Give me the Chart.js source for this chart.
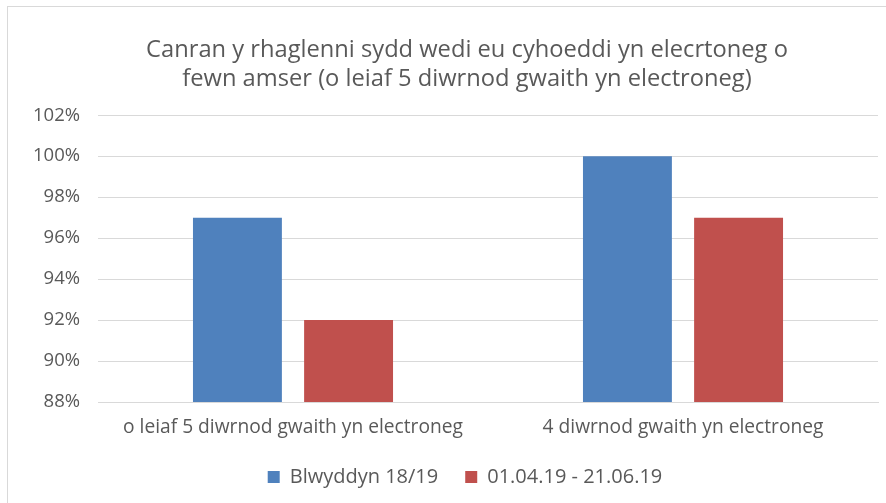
<!DOCTYPE html>
<html>
<head>
<meta charset="utf-8">
<script src="https://cdn.jsdelivr.net/npm/chart.js@4/dist/chart.umd.min.js"></script>
<style>
  html, body { margin: 0; padding: 0; background: #fff; overflow: hidden; }
  #frame { position: absolute; left: 7px; top: 6px; width: 900px; height: 520px; border: 1px solid #d9d9d9; box-sizing: border-box; }
  #wrap { position: absolute; left: 0; top: 0; width: 886px; height: 503px; }
</style>
</head>
<body>
<div id="frame"></div>
<div id="wrap"><canvas id="barChart"></canvas></div>
<script>
const categories = ['o leiaf 5 diwrnod gwaith yn electroneg', '4 diwrnod gwaith yn electroneg'];
const seriesNames = ['Blwyddyn 18/19', '01.04.19 - 21.06.19'];
const year1819 = [97, 100];
const period2019 = [92, 97];
const yTicks = [88, 90, 92, 94, 96, 98, 100, 102];
const titleLines = ['Canran y rhaglenni sydd wedi eu cyhoeddi yn elecrtoneg o', 'fewn amser (o leiaf 5 diwrnod gwaith yn electroneg)'];

const fontFamily = '"Open Sans", "Liberation Sans", sans-serif';
const grey = '#595959';

// the frame in the source is wider than the plot, so title and legend sit a bit right of the plot centre
const shiftBlocks = {
  id: 'shiftBlocks',
  afterLayout(chart) {
    if (chart.titleBlock) chart.titleBlock.left += 56;
    if (chart.legend) chart.legend.left += 52;
  }
};

const config = {
  type: 'bar',
  data: {
    labels: categories,
    datasets: [{
      label: seriesNames[0],
      data: year1819,
      backgroundColor: '#4f81bd',
      barPercentage: 0.8,
      categoryPercentage: 0.57
    }, {
      label: seriesNames[1],
      data: period2019,
      backgroundColor: '#c0504d',
      barPercentage: 0.8,
      categoryPercentage: 0.57
    }]
  },
  options: {
    responsive: true,
    maintainAspectRatio: false,
    animation: false,
    layout: { padding: { left: 0, right: 8, top: 35, bottom: 6 } },
    plugins: {
      title: {
        display: true,
        text: titleLines,
        color: grey,
        font: { family: fontFamily, size: 23.7, weight: 'normal', lineHeight: 1.25 },
        padding: { top: 0, bottom: 21 }
      },
      legend: {
        position: 'bottom',
        labels: {
          color: grey,
          font: { family: fontFamily, size: 20 },
          boxWidth: 12,
          boxHeight: 12,
          padding: 27
        }
      },
      tooltip: { enabled: false }
    },
    scales: {
      x: {
        afterFit: scale => { scale.height = 38; },
        grid: { display: false, drawTicks: false },
        border: { color: '#d9d9d9', width: 1 },
        ticks: { color: grey, font: { family: fontFamily, size: 19.2 }, padding: 14, autoSkip: false, maxRotation: 0 }
      },
      y: {
        min: yTicks[0],
        max: yTicks[yTicks.length - 1],
        afterBuildTicks: scale => { scale.ticks = yTicks.map(v => ({ value: v })); },
        afterFit: scale => { scale.width = 98; },
        grid: { color: '#d9d9d9', drawTicks: false },
        border: { display: false },
        ticks: {
          color: grey,
          font: { family: fontFamily, size: 18.5 },
          padding: 18,
          callback: v => v + '%'
        }
      }
    }
  },
  plugins: [shiftBlocks]
};

new Chart(document.getElementById('barChart'), config);
</script>
</body>
</html>
